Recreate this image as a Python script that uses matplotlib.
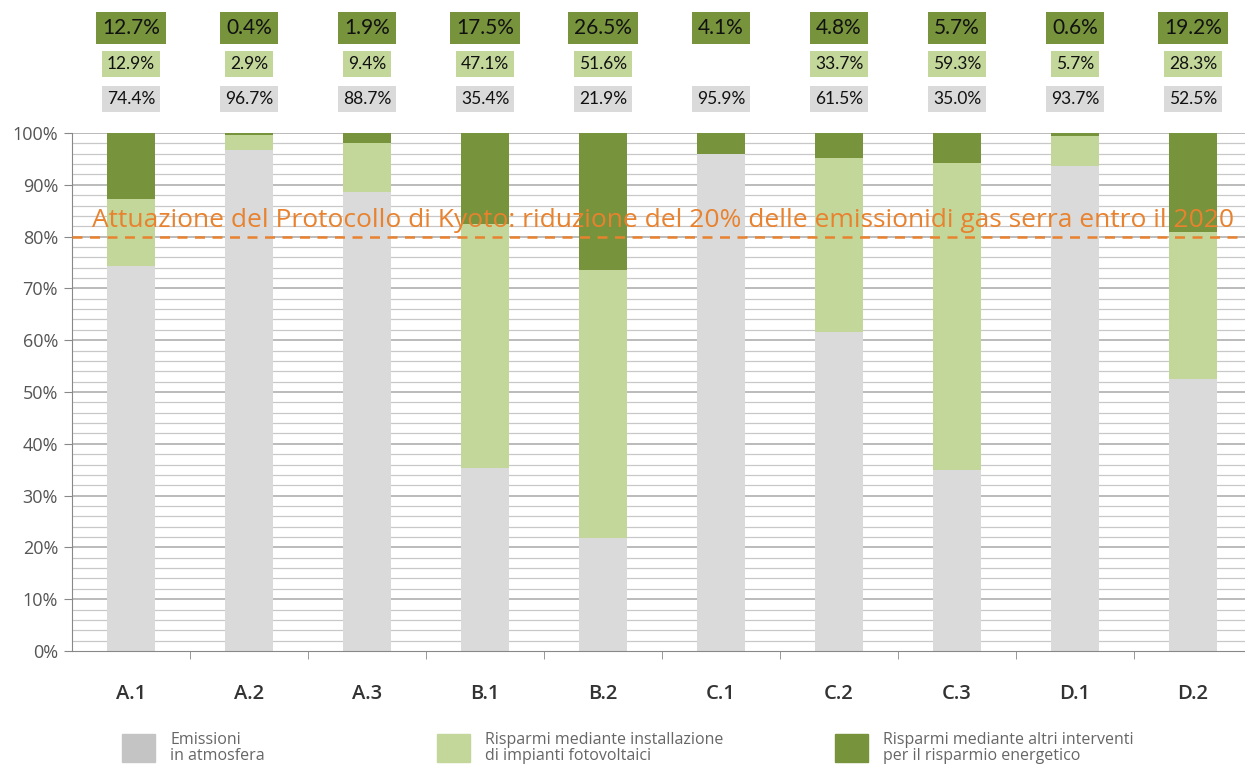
import numpy as np
import matplotlib.pyplot as plt
from matplotlib.patches import Rectangle
from matplotlib.transforms import blended_transform_factory

# dati
categorie = ["A.1", "A.2", "A.3", "B.1", "B.2", "C.1", "C.2", "C.3", "D.1", "D.2"]
emissioni = [74.4, 96.7, 88.7, 35.4, 21.9, 95.9, 61.5, 35.0, 93.7, 52.5]
fotovoltaico = [12.9, 2.9, 9.4, 47.1, 51.6, 0.0, 33.7, 59.3, 5.7, 28.3]
altri = [12.7, 0.4, 1.9, 17.5, 26.5, 4.1, 4.8, 5.7, 0.6, 19.2]
serie = ["Emissioni\nin atmosfera",
         "Risparmi mediante installazione\ndi impianti fotovoltaici",
         "Risparmi mediante altri interventi\nper il risparmio energetico"]
soglia = 80
testo_kyoto = "Attuazione del Protocollo di Kyoto: riduzione del 20% delle emissionidi gas serra entro il 2020"

grigio = "#dadada"
verde_chiaro = "#c4d79b"
verde_scuro = "#77933c"
arancio = "#e8822e"

fig = plt.figure(figsize=(12.45, 7.69), dpi=100)
ax = fig.add_axes([72/1245, 118/769, 1180/1245, 518/769])

x = np.arange(len(categorie))
w = 0.41
e = np.array(emissioni)
f = np.array(fotovoltaico)
a = np.array(altri)
ax.bar(x, e, w, color=grigio, zorder=2)
ax.bar(x, f, w, bottom=e, color=verde_chiaro, zorder=2)
ax.bar(x, a, w, bottom=e + f, color=verde_scuro, zorder=2)

ax.set_xlim(-0.5, len(categorie) - 0.5)
ax.set_ylim(0, 100)

# griglia
for v in np.arange(2, 101, 2):
    major = v % 10 == 0
    ax.axhline(v, color="#a8a8a8" if major else "#c8c8c8", lw=1.1 if major else 0.9, zorder=1)

ax.set_yticks(np.arange(0, 101, 10))
ax.set_yticklabels([f"{v}%" for v in range(0, 101, 10)], fontsize=13, color="#555555",
                   family=["Open Sans", "DejaVu Sans"])
ax.tick_params(axis="y", length=6, color="#888888", pad=4)
ax.set_xticks(x)
ax.set_xticklabels(categorie, fontsize=14.5, color="#333333", fontweight="semibold",
                   family=["Open Sans", "DejaVu Sans"])
ax.set_xticks(np.arange(0.5, len(categorie) - 0.5, 1), minor=True)
ax.tick_params(axis="x", which="major", length=0, pad=24)
ax.tick_params(axis="x", which="minor", length=6, color="#888888")
for s in ["top", "right"]:
    ax.spines[s].set_visible(False)
ax.spines["left"].set_color("#888888")
ax.spines["bottom"].set_color("#888888")

# linea Kyoto
ax.axhline(soglia, color=arancio, lw=1.8, ls=(0, (4, 3)), zorder=4)
ax.text(-0.33, 83.2, testo_kyoto, color=arancio, fontsize=19, va="center", ha="left",
        family=["Open Sans", "DejaVu Sans"], zorder=5)

# etichette in alto
trans = blended_transform_factory(ax.transData, ax.transAxes)
for i in range(len(categorie)):
    ax.text(x[i], 1.203, f"{altri[i]:.1f}%", transform=trans, ha="center", va="center",
            fontsize=15, family=["Lato", "DejaVu Sans"], color="#111111",
            bbox=dict(boxstyle="square,pad=0.3", fc=verde_scuro, ec="none"))
    if fotovoltaico[i] > 0:
        ax.text(x[i], 1.133, f"{fotovoltaico[i]:.1f}%", transform=trans, ha="center", va="center",
                fontsize=12.5, family=["Lato", "DejaVu Sans"], color="#111111",
                bbox=dict(boxstyle="square,pad=0.3", fc=verde_chiaro, ec="none"))
    ax.text(x[i], 1.066, f"{emissioni[i]:.1f}%", transform=trans, ha="center", va="center",
            fontsize=12.5, family=["Lato", "DejaVu Sans"], color="#111111",
            bbox=dict(boxstyle="square,pad=0.3", fc=grigio, ec="none"))

# legenda
colori_leg = ["#c4c4c4", verde_chiaro, verde_scuro]
pos_leg = [122, 437, 835]
for px, c, lab in zip(pos_leg, colori_leg, serie):
    fig.patches.append(Rectangle((px/1245, 7/769), 33/1245, 28/769, transform=fig.transFigure,
                                 color=c))
    fig.text((px + 48)/1245, 21/769, lab, fontsize=11.5, color="#666666", va="center", ha="left",
             linespacing=0.95, family=["Open Sans", "DejaVu Sans"])

fig.savefig("out.png", dpi=100)
